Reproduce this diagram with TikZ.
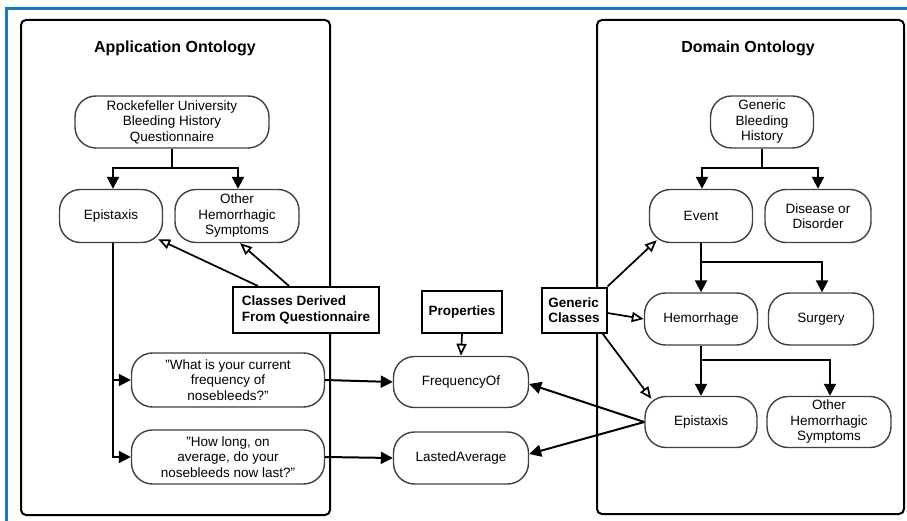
\documentclass[tikz,border=0pt]{standalone}
\usepackage{fontspec}
\setmainfont{Liberation Sans}
\usetikzlibrary{arrows.meta,calc}
\definecolor{framblue}{RGB}{22,122,192}
\begin{document}
\begin{tikzpicture}[x=1pt,y=-1pt,
  every node/.style={font=\fontsize{13.5}{15.5}\selectfont, inner sep=0pt},
  term/.style={draw=black!75, line width=1.4pt, rounded corners=21pt, align=center, fill=white},
  tagbox/.style={draw=black, line width=2pt, align=left, fill=white,
    font=\fontsize{13.5}{15.5}\selectfont\bfseries},
  paneltitle/.style={font=\fontsize{16}{18}\selectfont\bfseries},
  panel/.style={draw=black, line width=2pt, rounded corners=5pt},
  arr/.style={line width=2pt, -{Triangle[length=12pt,width=12pt]}},
  oarr/.style={line width=1.7pt, -{Triangle[open,length=12pt,width=10pt]}},
]
\useasboundingbox[fill=white] (0,0) rectangle (907,521);
\draw[framblue, line width=3pt] (6,521) -- (6,9) -- (907,9);

% panels
\draw[panel] (21,20) rectangle (330,515);
\draw[panel] (597,20) rectangle (904,514);
\node[paneltitle] (apptitle) at (175,48) {Application Ontology};
\node[paneltitle] (domtitle) at (748,48) {Domain Ontology};

% left nodes
\node[term, minimum width=194pt, minimum height=52pt] (rock) at (172,122) {Rockefeller University\\Bleeding History\\Questionnaire};
\node[term, minimum width=103pt, minimum height=53pt] (epiL) at (111,216) {Epistaxis};
\node[term, minimum width=124pt, minimum height=53pt] (othL) at (237,216) {Other\\Hemorrhagic\\Symptoms};
\node[term, minimum width=193pt, minimum height=54pt] (q1) at (228,380) {"What is your current\\frequency of\\nosebleeds?"};
\node[term, minimum width=193pt, minimum height=54pt] (q2) at (228,457) {"How long, on\\average, do your\\nosebleeds now last?"};

% middle
\node[tagbox, minimum width=146pt, minimum height=46pt] (cdq) at (306,310) {Classes Derived\\From Questionnaire};
\node[tagbox, minimum width=80pt, minimum height=42pt] (prop) at (462,312) {Properties};
\node[term, minimum width=135pt, minimum height=51pt] (freq) at (461,382) {FrequencyOf};
\node[term, minimum width=135pt, minimum height=52pt] (last) at (461,458) {LastedAverage};
\node[tagbox, minimum width=65pt, minimum height=45pt] (gen) at (574,310) {Generic\\Classes};

% right nodes
\node[term, minimum width=103pt, minimum height=52pt] (gbh) at (762,122) {Generic\\Bleeding\\History};
\node[term, minimum width=103pt, minimum height=53pt] (event) at (701,216) {Event};
\node[term, minimum width=106pt, minimum height=53pt] (dis) at (818,216) {Disease or\\Disorder};
\node[term, minimum width=113pt, minimum height=52pt] (hem) at (701,319) {Hemorrhage};
\node[term, minimum width=105pt, minimum height=52pt] (surg) at (821,319) {Surgery};
\node[term, minimum width=112pt, minimum height=51pt] (epiR) at (701,422) {Epistaxis};
\node[term, minimum width=124pt, minimum height=51pt] (othR) at (829,422) {Other\\Hemorrhagic\\Symptoms};

% junctions
\coordinate (rj) at (172,168);
\coordinate (gj) at (762,168);
\coordinate (ej) at (701,262);
\coordinate (hj) at (701,360);

% left tree
\draw[arr] (rock.south) -- (rj) -| ([xshift=2pt]epiL.north);
\draw[arr] (rj) -| ([xshift=1pt]othL.north);
\draw[arr] ([xshift=2pt]epiL.south) |- (q1.west);
\draw[arr] ([xshift=2pt]epiL.south) |- (q2.west);
\draw[arr] (q1.east) -- (freq.west);
\draw[arr] (q2.east) -- (last.west);

% derived classes
\draw[oarr] ([xshift=-48pt]cdq.north) -- ([xshift=-5pt,yshift=4pt]epiL.south east);
\draw[oarr] ([xshift=-17pt]cdq.north) -- ([xshift=3pt]othL.south);
\draw[oarr] (prop.south) -- (freq.north);

% right tree
\draw[arr] (gbh.south) -- (gj) -| ([xshift=1pt]event.north);
\draw[arr] (gj) -| (dis.north);
\draw[arr] (event.south) -- (ej) -- (hem.north);
\draw[arr] (ej) -| ([xshift=1pt]surg.north);
\draw[arr] (hem.south) -- (hj) -- (epiR.north);
\draw[arr] (hj) -| ([xshift=1pt]othR.north);

% generic classes
\draw[oarr] (gen.north east) -- ([xshift=8pt,yshift=3pt]event.south west);
\draw[oarr] ([yshift=-3pt]gen.east) -- (hem.west);
\draw[oarr] ([xshift=-5pt]gen.south east) -- ([xshift=7pt,yshift=-3pt]epiR.north west);

% properties from domain
\draw[arr] (epiR.west) -- ([yshift=-2pt]freq.east);
\draw[arr] (epiR.west) -- ([yshift=4pt]last.east);
\end{tikzpicture}
\end{document}
